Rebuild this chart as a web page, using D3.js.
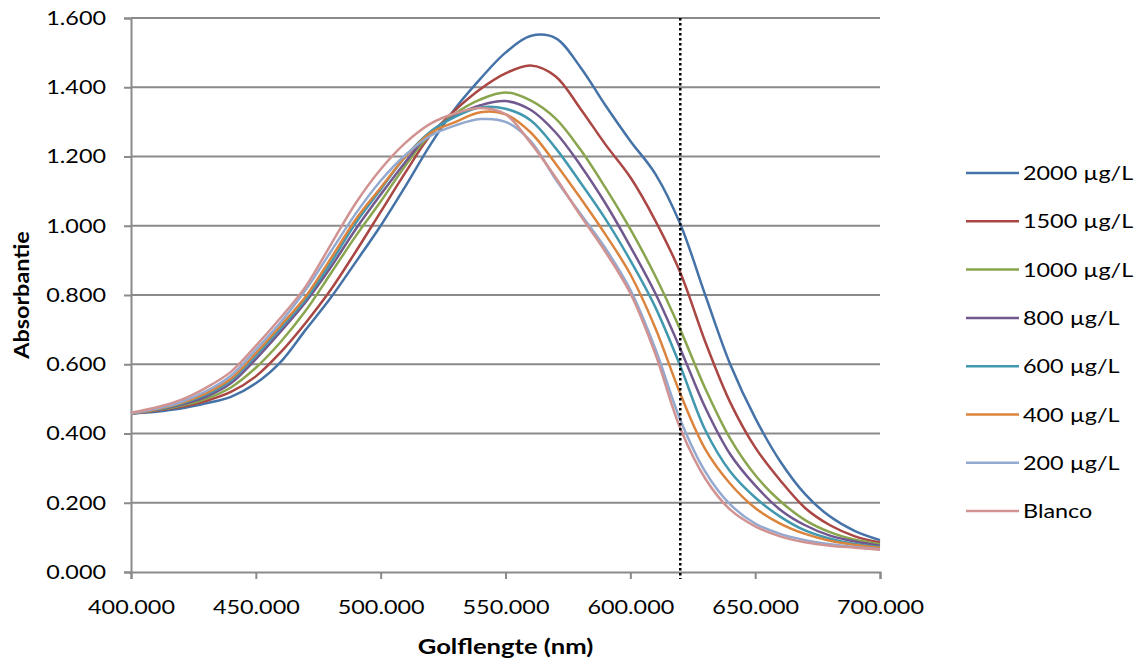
<!DOCTYPE html>
<html>
<head>
<meta charset="utf-8">
<script src="https://cdn.jsdelivr.net/npm/d3@7"></script>
<style>
  html, body { margin: 0; padding: 0; background: #fff; }
  svg { display: block; font-family: Lato, "Open Sans", sans-serif; }
</style>
</head>
<body>
<svg id="chart" width="1140" height="662"></svg>
<script>
// Wavelengths (nm) at which absorbance was sampled
const wavelengths = [400, 410, 420, 430, 440, 450, 460, 470, 480, 490, 500, 510, 520, 530, 540, 550,
                     560, 570, 580, 590, 600, 610, 620, 630, 640, 650, 660, 670, 680, 690, 700];

const seriesNames = ["2000 µg/L", "1500 µg/L", "1000 µg/L", "800 µg/L", "600 µg/L", "400 µg/L", "200 µg/L", "Blanco"];
const seriesColors = ["#4572A7", "#AA4643", "#89A54E", "#71588F", "#4198AF", "#DB843D", "#93A9CF", "#D19392"];

// Absorbance per standard
const abs2000 = [0.458, 0.463, 0.472, 0.487, 0.506, 0.545, 0.607, 0.700, 0.792, 0.895, 1.000, 1.115, 1.235,
                 1.340, 1.425, 1.500, 1.548, 1.542, 1.458, 1.348, 1.245, 1.150, 1.005, 0.800, 0.600, 0.445,
                 0.320, 0.225, 0.160, 0.118, 0.092];
const abs1500 = [0.458, 0.466, 0.477, 0.494, 0.520, 0.565, 0.635, 0.720, 0.815, 0.925, 1.040, 1.155, 1.262,
                 1.335, 1.395, 1.440, 1.463, 1.432, 1.338, 1.235, 1.140, 1.015, 0.865, 0.665, 0.490, 0.360,
                 0.265, 0.185, 0.135, 0.103, 0.085];
const abs1000 = [0.458, 0.467, 0.480, 0.500, 0.533, 0.590, 0.665, 0.755, 0.862, 0.970, 1.070, 1.175, 1.265,
                 1.325, 1.365, 1.385, 1.362, 1.310, 1.220, 1.110, 0.990, 0.855, 0.700, 0.530, 0.385, 0.280,
                 0.205, 0.150, 0.115, 0.093, 0.080];
const abs800  = [0.458, 0.468, 0.483, 0.506, 0.545, 0.615, 0.695, 0.780, 0.880, 0.990, 1.090, 1.185, 1.270,
                 1.318, 1.348, 1.360, 1.335, 1.270, 1.175, 1.065, 0.940, 0.805, 0.645, 0.475, 0.340, 0.250,
                 0.180, 0.135, 0.105, 0.088, 0.076];
const abs600  = [0.458, 0.469, 0.486, 0.512, 0.553, 0.625, 0.705, 0.788, 0.893, 1.008, 1.105, 1.200, 1.272,
                 1.315, 1.342, 1.338, 1.305, 1.225, 1.125, 1.020, 0.900, 0.765, 0.595, 0.410, 0.290, 0.215,
                 0.160, 0.120, 0.096, 0.081, 0.072];
const abs400  = [0.458, 0.470, 0.488, 0.516, 0.558, 0.632, 0.712, 0.796, 0.905, 1.018, 1.110, 1.200, 1.268,
                 1.300, 1.328, 1.322, 1.270, 1.180, 1.080, 0.975, 0.860, 0.705, 0.515, 0.355, 0.255, 0.185,
                 0.140, 0.110, 0.090, 0.078, 0.070];
const abs200  = [0.458, 0.472, 0.491, 0.522, 0.567, 0.642, 0.722, 0.815, 0.925, 1.035, 1.130, 1.205, 1.260,
                 1.290, 1.308, 1.300, 1.245, 1.135, 1.035, 0.935, 0.815, 0.645, 0.440, 0.290, 0.195, 0.140,
                 0.110, 0.092, 0.080, 0.072, 0.066];
const absBlanco = [0.460, 0.475, 0.497, 0.532, 0.578, 0.653, 0.735, 0.825, 0.945, 1.065, 1.163, 1.240, 1.295,
                 1.325, 1.340, 1.322, 1.240, 1.140, 1.030, 0.925, 0.805, 0.630, 0.415, 0.270, 0.180, 0.132,
                 0.103, 0.086, 0.076, 0.070, 0.064];

const seriesValues = [abs2000, abs1500, abs1000, abs800, abs600, abs400, abs200, absBlanco];

// Marker wavelength (dotted vertical line)
const markerWavelength = 620;

const xTicks = [400, 450, 500, 550, 600, 650, 700];
const yTicks = [0, 0.2, 0.4, 0.6, 0.8, 1.0, 1.2, 1.4, 1.6];

const svg = d3.select("#chart");
const plot = { left: 131, right: 880, top: 18, bottom: 572 };
const gridColor = "#8a8a8a";
const textStretch = 1.17;
const fmt = d3.format(".3f");

const x = d3.scaleLinear().domain([400, 700]).range([plot.left, plot.right]);
const y = d3.scaleLinear().domain([0, 1.6]).range([plot.bottom, plot.top]);

// widen glyphs horizontally around their anchor point
function stretch(sel, k) {
  sel.each(function () {
    const t = d3.select(this);
    const x0 = +t.attr("x") || 0;
    t.attr("transform", `translate(${x0 * (1 - k)},0) scale(${k},1)`);
  });
}

// horizontal gridlines
svg.append("g")
  .selectAll("line")
  .data(yTicks.filter(d => d > 0))
  .join("line")
  .attr("x1", plot.left).attr("x2", plot.right)
  .attr("y1", d => y(d)).attr("y2", d => y(d))
  .attr("stroke", gridColor).attr("stroke-width", 2);

// y axis
const yAxis = svg.append("g")
  .attr("transform", `translate(${plot.left},0)`)
  .call(d3.axisLeft(y).tickValues(yTicks).tickFormat(fmt).tickSize(7).tickPadding(18));
yAxis.select(".domain").attr("stroke", gridColor).attr("stroke-width", 2);
yAxis.selectAll(".tick line").attr("stroke", gridColor).attr("stroke-width", 2);
yAxis.selectAll("text").attr("font-size", 20).attr("fill", "#000").attr("font-family", "Lato")
  .call(stretch, textStretch);

// x axis
const xAxis = svg.append("g")
  .attr("transform", `translate(0,${plot.bottom})`)
  .call(d3.axisBottom(x).tickValues(xTicks).tickFormat(fmt).tickSize(7).tickPadding(21));
xAxis.select(".domain").attr("stroke", gridColor).attr("stroke-width", 2);
xAxis.selectAll(".tick line").attr("stroke", gridColor).attr("stroke-width", 2);
xAxis.selectAll("text").attr("font-size", 20).attr("fill", "#000").attr("font-family", "Lato")
  .call(stretch, textStretch);

// spectra
const line = d3.line()
  .x((d, i) => x(wavelengths[i]))
  .y(d => y(d))
  .curve(d3.curveCatmullRom.alpha(0.5));

svg.append("g")
  .selectAll("path")
  .data(seriesValues)
  .join("path")
  .attr("d", d => line(d))
  .attr("fill", "none")
  .attr("stroke", (d, i) => seriesColors[i])
  .attr("stroke-width", 2.5)
  .attr("stroke-linejoin", "round");

// dotted marker line
svg.append("line")
  .attr("x1", x(markerWavelength)).attr("x2", x(markerWavelength))
  .attr("y1", plot.top).attr("y2", plot.bottom + 7)
  .attr("stroke", "#000").attr("stroke-width", 2.5)
  .attr("stroke-dasharray", "2.5,2.5");

// axis titles
const xTitle = svg.append("text")
  .attr("x", (plot.left + plot.right) / 2).attr("y", 654)
  .attr("text-anchor", "middle").attr("font-size", 21).attr("font-weight", "bold")
  .attr("font-family", "Lato").text("Golflengte (nm)");
stretch(xTitle, 1.22);

svg.append("text")
  .attr("transform", `translate(29,${(plot.top + plot.bottom) / 2}) rotate(-90) scale(${textStretch},1)`)
  .attr("text-anchor", "middle").attr("font-size", 20).attr("font-weight", "bold")
  .attr("font-family", "Lato").text("Absorbantie");

// legend
const legendRows = svg.append("g")
  .selectAll("g")
  .data(seriesNames)
  .join("g")
  .attr("transform", (d, i) => `translate(966,${173 + i * 48.3})`);
legendRows.append("line")
  .attr("x1", 0).attr("x2", 53).attr("y1", 0).attr("y2", 0)
  .attr("stroke", (d, i) => seriesColors[i]).attr("stroke-width", 2.5);
legendRows.append("text")
  .attr("x", 57).attr("y", 7)
  .attr("font-size", 20).attr("font-family", "Lato").attr("fill", "#000")
  .text(d => d)
  .call(stretch, textStretch);
</script>
</body>
</html>
